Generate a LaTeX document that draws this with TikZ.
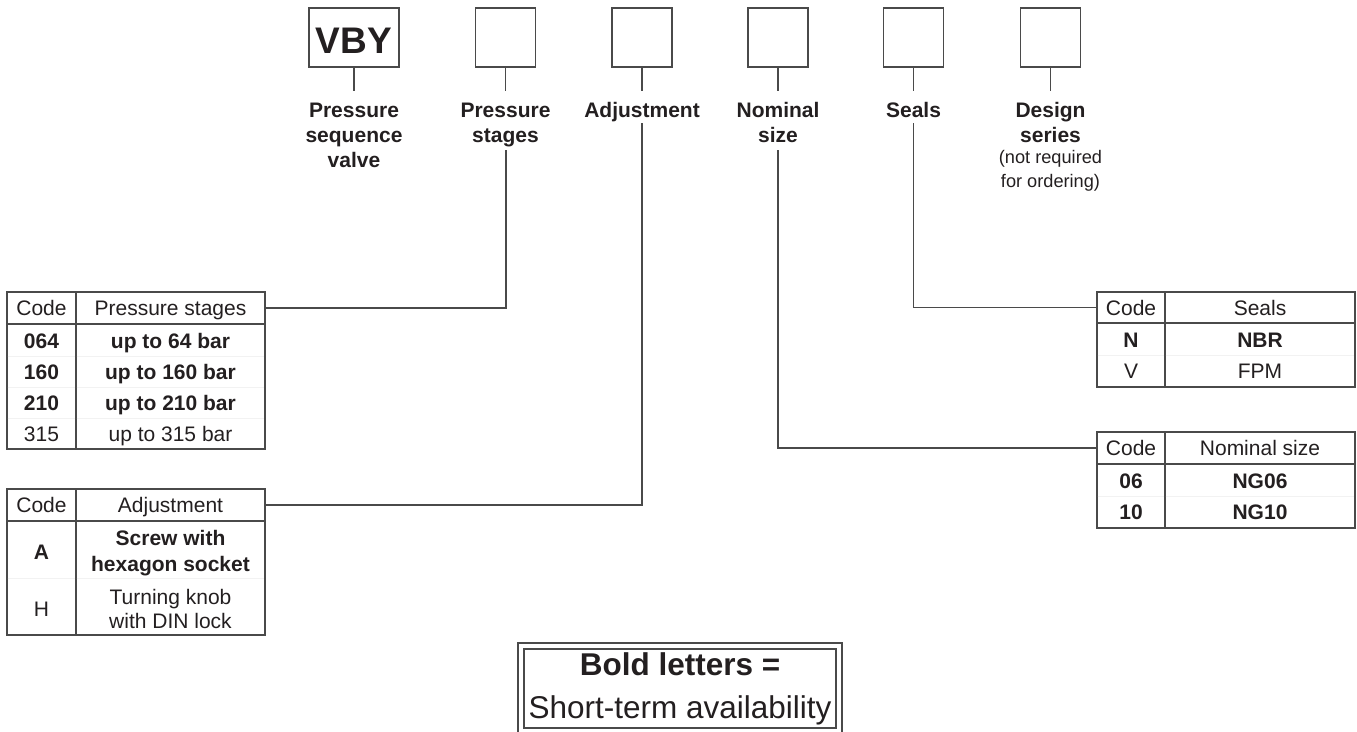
\documentclass[tikz,border=0pt]{standalone}
\usepackage{fontspec}
\setmainfont{Liberation Sans}
\definecolor{ink}{HTML}{231F20}
\definecolor{rule}{HTML}{4A4A4A}
\definecolor{faint}{HTML}{F2F2F2}
\begin{document}
\begin{tikzpicture}[x=1pt,y=-1pt,
 every node/.style={text=ink},
 box/.style={draw=rule, line width=1.2pt, minimum width=60pt, minimum height=59pt, inner sep=0pt},
 conn/.style={draw=rule, line width=1.2pt},
 tab/.style={draw=rule, line width=1.2pt},
 sepl/.style={draw=faint, line width=0.8pt},
 lbl/.style={font=\fontsize{21}{25}\selectfont\bfseries, inner sep=0pt, text height=15pt, text depth=0pt},
 note/.style={font=\fontsize{18.2}{22}\selectfont, inner sep=0pt, text height=13pt, text depth=0pt},
 cell/.style={font=\fontsize{21}{25}\selectfont, inner sep=0pt, text height=15pt, text depth=0pt},
 bcell/.style={cell, font=\fontsize{21}{25}\selectfont\bfseries},
 head/.style={cell, minimum height=32pt, minimum width=#1},
]
\useasboundingbox (0,0) rectangle (1357,731);

% top code boxes
\node[box, minimum width=90pt] (b1) at (354,37.5) {};
\node[font=\fontsize{37}{40}\selectfont\bfseries, inner sep=0pt, text height=26.5pt, text depth=0pt] (vby) at (354,40) {VBY};
\node[box] (b2) at (505.5,37.5) {};
\node[box] (b3) at (642,37.5) {};
\node[box] (b4) at (778,37.5) {};
\node[box] (b5) at (913.5,37.5) {};
\node[box] (b6) at (1050.5,37.5) {};
\foreach \b in {b1,b2,b3,b4,b5,b6} \draw[conn] (\b.south) -- ++(0,23);

% labels
\node[lbl] (l1a) at (354,109.5) {Pressure};
\node[lbl] (l1b) at (354,134.5) {sequence};
\node[lbl] (l1c) at (354,159.5) {valve};
\node[lbl] (l2a) at (505.5,109.5) {Pressure};
\node[lbl] (l2b) at (505.5,134.5) {stages};
\node[lbl] (l3a) at (642,109.5) {Adjustment};
\node[lbl] (l4a) at (778,109.5) {Nominal};
\node[lbl] (l4b) at (778,134.5) {size};
\node[lbl] (l5a) at (913.5,109.5) {Seals};
\node[lbl] (l6a) at (1050.5,109.5) {Design};
\node[lbl] (l6b) at (1050.5,134.5) {series};
\node[note] (l6c) at (1050.5,156.5) {(not required};
\node[note] (l6d) at (1050.5,180.5) {for ordering)};

% pressure stages table
\draw[tab] (7,292) rectangle (265,449);
\draw[tab] (76,292) -- (76,449);
\draw[tab] (7,324) -- (265,324);
\foreach \yy in {356,387,418} \draw[sepl] (7.6,\yy) -- (75.4,\yy) (76.6,\yy) -- (264.4,\yy);
\node[head=69pt] (psC) at (41.5,308) {Code};
\node[head=189pt] (psH) at (170.5,308) {Pressure stages};
\node[bcell] (ps1c) at (41.5,341) {064};
\node[bcell] (ps1d) at (170.5,341) {up to 64 bar};
\node[bcell] (ps2c) at (41.5,372) {160};
\node[bcell] (ps2d) at (170.5,372) {up to 160 bar};
\node[bcell] (ps3c) at (41.5,403) {210};
\node[bcell] (ps3d) at (170.5,403) {up to 210 bar};
\node[cell] (ps4c) at (41.5,434) {315};
\node[cell] (ps4d) at (170.5,434) {up to 315 bar};

% adjustment table
\draw[tab] (7,489) rectangle (265,635);
\draw[tab] (76,489) -- (76,635);
\draw[tab] (7,521) -- (265,521);
\draw[sepl] (7.6,578) -- (75.4,578) (76.6,578) -- (264.4,578);
\node[head=69pt] (adC) at (41.5,505) {Code};
\node[head=189pt] (adH) at (170.5,505) {Adjustment};
\node[bcell] (ad1c) at (41.5,552) {A};
\node[bcell] (ad1d) at (170.5,538) {Screw with};
\node[bcell] (ad1e) at (170.5,564) {hexagon socket};
\node[cell] (ad2c) at (41.5,609) {H};
\node[cell] (ad2d) at (170.5,597) {Turning knob};
\node[cell] (ad2e) at (170.5,621) {with DIN lock};

% seals table
\draw[tab] (1097,292) rectangle (1355,387);
\draw[tab] (1165,292) -- (1165,387);
\draw[tab] (1097,323) -- (1355,323);
\draw[sepl] (1097.6,355) -- (1164.4,355) (1165.6,355) -- (1354.4,355);
\node[head=68pt] (seC) at (1131,307.5) {Code};
\node[head=190pt] (seH) at (1260,307.5) {Seals};
\node[bcell] (se1c) at (1131,340) {N};
\node[bcell] (se1d) at (1260,340) {NBR};
\node[cell] (se2c) at (1131,371) {V};
\node[cell] (se2d) at (1260,371) {FPM};

% nominal size table
\draw[tab] (1097,432) rectangle (1355,528);
\draw[tab] (1165,432) -- (1165,528);
\draw[tab] (1097,464) -- (1355,464);
\draw[sepl] (1097.6,496) -- (1164.4,496) (1165.6,496) -- (1354.4,496);
\node[head=68pt] (nsC) at (1131,448) {Code};
\node[head=190pt] (nsH) at (1260,448) {Nominal size};
\node[bcell] (ns1c) at (1131,481) {06};
\node[bcell] (ns1d) at (1260,481) {NG06};
\node[bcell] (ns2c) at (1131,512) {10};
\node[bcell] (ns2d) at (1260,512) {NG10};

% connectors from labels to tables
\coordinate (psL) at (506,150);
\coordinate (adL) at (642,123);
\coordinate (nsL) at (778,150);
\coordinate (seL) at (913.5,123);
\draw[conn] (psL) |- (psH.east);
\draw[conn] (adL) |- (adH.east);
\draw[conn] (nsL) |- (nsC.west);
\draw[conn] (seL) |- (seC.west);

% legend box
\draw[conn] (518,740) -- (518,643) -- (842,643) -- (842,740);
\draw[conn] (524,649) rectangle (836,728);
\node[font=\fontsize{31.5}{36}\selectfont\bfseries, inner sep=0pt, anchor=base] (lg1) at (680,675.5) {Bold letters =};
\node[font=\fontsize{31.5}{36}\selectfont, inner sep=0pt, anchor=base] (lg2) at (680,718) {Short-term availability};
\end{tikzpicture}
\end{document}
